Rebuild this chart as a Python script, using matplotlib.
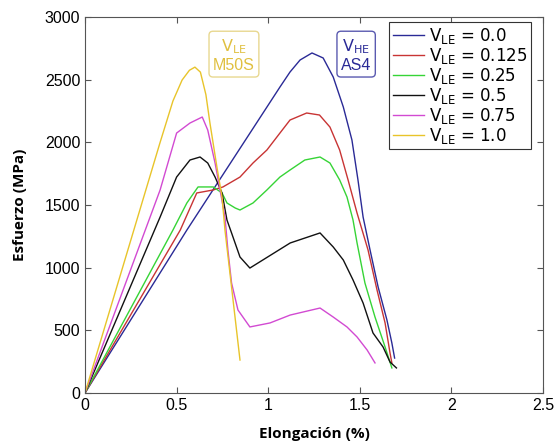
import matplotlib
matplotlib.use('Agg')
from matplotlib import pyplot as plt

# curves, strain (%) vs stress (MPa)
x_00 = [0, 0.556, 1.064, 1.119, 1.174, 1.239, 1.30, 1.355, 1.41, 1.457, 1.49, 1.518, 1.556, 1.60,
        1.648, 1.675, 1.69]
y_00 = [0, 1300, 2441, 2561, 2657, 2713, 2673, 2521, 2282, 2019, 1700, 1404, 1141, 846,
        583, 399, 279]

x_0125 = [0, 0.52, 0.61, 0.70, 0.753, 0.846, 0.917, 0.993, 1.064, 1.119, 1.21, 1.28, 1.337, 1.39,
          1.436, 1.485, 1.545, 1.594, 1.638, 1.665, 1.675]
y_0125 = [0, 1300, 1596, 1620, 1644, 1723, 1835, 1939, 2074, 2178, 2234, 2218, 2122, 1939,
          1700, 1436, 1141, 822, 559, 319, 240]

x_025 = [0, 0.48, 0.556, 0.617, 0.70, 0.748, 0.775, 0.82, 0.846, 0.917, 0.993, 1.064, 1.119, 1.20,
         1.283, 1.337, 1.39, 1.43, 1.463, 1.485, 1.528, 1.583, 1.638, 1.675]
y_025 = [0, 1300, 1516, 1644, 1644, 1596, 1516, 1476, 1460, 1516, 1620, 1723, 1779, 1859,
         1883, 1835, 1700, 1564, 1380, 1197, 878, 606, 367, 200]

x_05 = [0, 0.41, 0.50, 0.573, 0.628, 0.67, 0.71, 0.748, 0.775, 0.80, 0.846, 0.90, 1.12, 1.283, 1.355,
        1.41, 1.463, 1.518, 1.572, 1.627, 1.665, 1.70]
y_05 = [0, 1404, 1723, 1859, 1883, 1835, 1723, 1596, 1380, 1277, 1085, 997, 1197, 1277, 1165,
        1061, 902, 718, 479, 367, 247, 200]

x_075 = [0, 0.41, 0.50, 0.573, 0.64, 0.67, 0.71, 0.737, 0.764, 0.78, 0.80, 0.835, 0.90, 1.01, 1.12,
         1.283, 1.355, 1.43, 1.485, 1.54, 1.583]
y_075 = [0, 1620, 2074, 2154, 2202, 2098, 1835, 1620, 1404, 1141, 878, 662, 527, 559, 622,
         678, 606, 527, 447, 343, 240]

x_10 = [0, 0.409, 0.48, 0.53, 0.57, 0.60, 0.63, 0.66, 0.682, 0.72, 0.748, 0.764, 0.846]
y_10 = [0, 1995, 2330, 2497, 2575, 2600, 2560, 2380, 2154, 1803, 1564, 1300, 263]

series = [(x_00, y_00, '0.0', '#2a2a96'),
          (x_0125, y_0125, '0.125', '#c83434'),
          (x_025, y_025, '0.25', '#36d436'),
          (x_05, y_05, '0.5', '#111111'),
          (x_075, y_075, '0.75', '#d24ad2'),
          (x_10, y_10, '1.0', '#e8c42a')]

plt.rcParams['font.family'] = ['Liberation Sans', 'DejaVu Sans']

fig = plt.figure(figsize=(5.56, 4.45), dpi=100)
ax = fig.add_axes([85 / 556, 52 / 445, 458 / 556, 376 / 445])

for xs, ys, lab, col in series:
    ax.plot(xs, ys, color=col, lw=1.0, label=r'$\mathrm{V_{LE}}$ = ' + lab)

ax.set_xlim(0, 2.5)
ax.set_ylim(0, 3000)
ax.set_xticks([0, 0.5, 1, 1.5, 2, 2.5])
ax.set_xticklabels(['0', '0.5', '1', '1.5', '2', '2.5'])
ax.set_yticks(range(0, 3001, 500))
ax.tick_params(direction='in', top=True, right=True, labelsize=11.5, length=4, color='#555555')
for s in ax.spines.values():
    s.set_color('#555555')

ax.set_xlabel('Elongación (%)', family='Open Sans', fontweight='bold', fontsize=11, labelpad=10)
ax.set_ylabel('Esfuerzo (MPa)', family='Open Sans', fontweight='bold', fontsize=11, labelpad=13)

leg = ax.legend(loc='upper right', bbox_to_anchor=(0.974, 0.986), borderaxespad=0,
                prop={'family': 'DejaVu Sans', 'size': 12},
                handlelength=1.9, handletextpad=0.3, borderpad=0.2, labelspacing=0.0,
                fancybox=False, edgecolor='#333333', framealpha=1)
leg.get_frame().set_linewidth(0.8)

# material boxes
ax.text(0.813, 2697, r'$\mathrm{V_{LE}}$' + '\nM50S', color='#e0c040', fontsize=11.5, ha='center',
        va='center', linespacing=1.2,
        bbox=dict(boxstyle='round,pad=0.25', fc='white', ec='#e8d890', lw=1.0))
ax.text(1.48, 2697, r'$\mathrm{V_{HE}}$' + '\nAS4', color='#2a2a96', fontsize=11.5, ha='center',
        va='center', linespacing=1.2,
        bbox=dict(boxstyle='round,pad=0.25', fc='white', ec='#5a5ab0', lw=1.0))

plt.savefig('out.png', dpi=100)
plt.close()
